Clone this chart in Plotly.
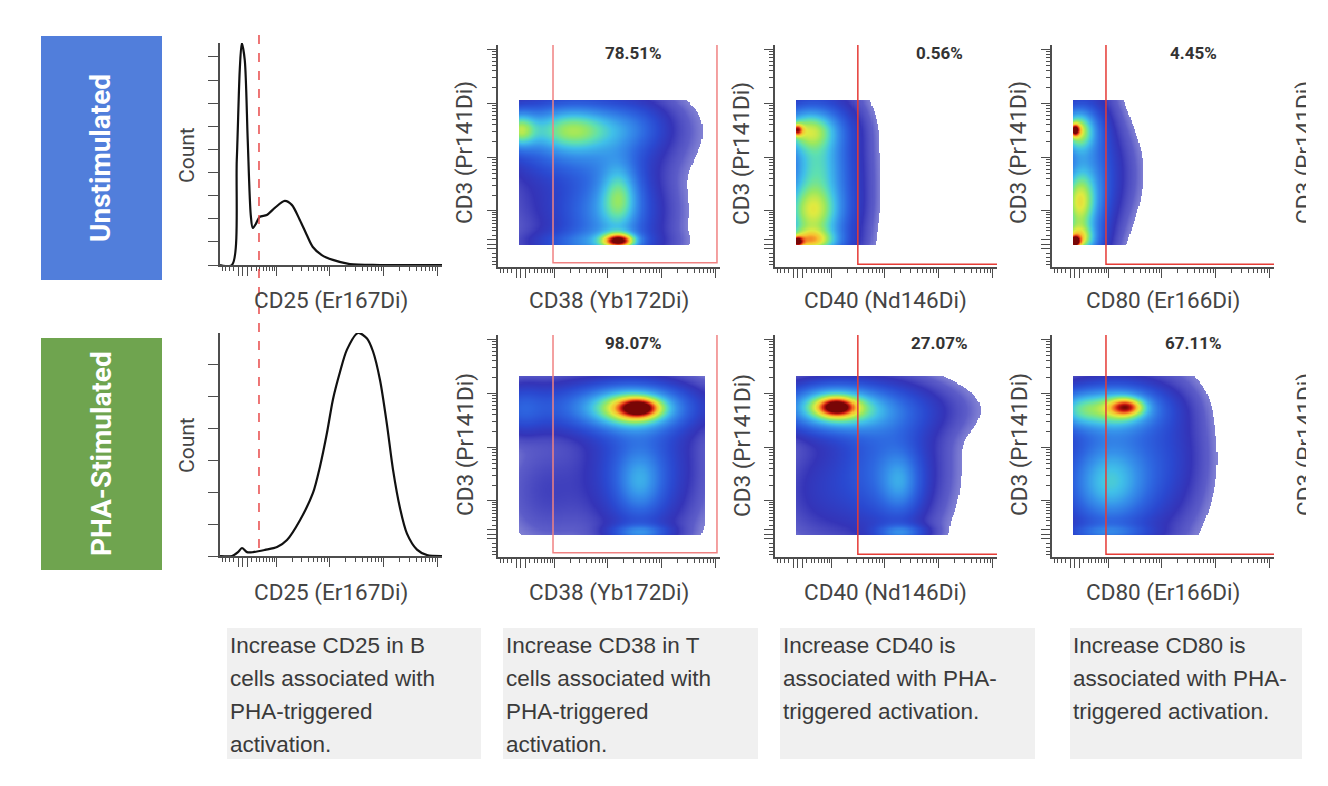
import numpy as np
import plotly.graph_objects as go

# the original figure is cropped a little before the right edge of the window
W, H = 1306, 786

# ---- data -------------------------------------------------------------
# marker axes are arcsinh scaled (cofactor 5); values below are in decades
major_ticks = [-1, 0, 1, 10, 100, 1000, 10000]
minor_ticks = [-5, -4, -3, -2, 2, 3, 4, 5, 6, 7, 8, 9,
               20, 30, 40, 50, 60, 70, 80, 90,
               200, 300, 400, 500, 600, 700, 800, 900,
               2000, 3000, 4000, 5000, 6000, 7000, 8000, 9000]

# CD25 histograms (B cells)
cd25_unstim_x = [-0.42, -0.20, -0.11, -0.055, -0.018, 0.037, 0.092, 0.148, 0.185, 0.24,
                 0.314, 0.444, 0.592, 0.776, 0.906, 1.054, 1.183, 1.294, 1.46, 1.664,
                 1.978, 2.53, 3.68]
cd25_unstim_count = [0, 0, 4.55, 8.44, 9.6, 8.87, 5.41, 2.16, 1.6, 1.77,
                     2.08, 2.16, 2.47, 2.77, 2.6, 1.95, 1.30, 0.78, 0.43, 0.22,
                     0.04, 0, 0]
cd25_pha_x = [-0.42, -0.198, -0.088, -0.014, 0.079, 0.19, 0.41, 0.633, 0.817, 1.057,
              1.297, 1.427, 1.556, 1.667, 1.796, 1.925, 2.128, 2.295, 2.405, 2.535,
              2.664, 2.775, 2.904, 3.033, 3.218, 3.403, 3.68]
cd25_pha_count = [0, 0, 0.12, 0.25, 0.12, 0.12, 0.19, 0.28, 0.5, 1.12,
                  1.97, 2.8, 3.85, 4.9, 5.75, 6.45, 6.97, 6.8, 6.4, 5.5,
                  4.1, 2.7, 1.5, 0.7, 0.2, 0.03, 0]
cd25_gate = 0.30

# CD3 vs marker density plots: populations as (x, y, sd_x, sd_y, peak)
cd38_unstim_pops = [(-0.04, 2.11, 0.22, 0.24, 0.45), (0.9, 2.11, 0.60, 0.30, 0.40),
                    (1.2, 2.1, 0.9, 0.45, 0.25), (2.1, 2.15, 0.4, 0.3, 0.12),
                    (1.83, 0.9, 0.25, 0.45, 0.33), (1.82, 0.06, 0.22, 0.10, 0.65),
                    (1.6, 0.6, 0.6, 0.6, 0.35), (1.3, 0.02, 0.7, 0.15, 0.20),
                    (0.3, 0.9, 0.5, 0.6, 0.05), (1.0, 1.5, 0.8, 0.25, 0.08)]
cd40_unstim_pops = [(-0.02, 2.11, 0.08, 0.08, 0.40), (0.18, 2.11, 0.42, 0.28, 0.52),
                    (-0.02, 0.04, 0.08, 0.07, 0.45), (0.2, 0.05, 0.38, 0.15, 0.45),
                    (0.25, 0.6, 0.40, 0.45, 0.52), (0.35, 1.5, 0.35, 0.30, 0.20),
                    (0.4, 1.2, 0.45, 1.1, 0.24), (0.9, 1.3, 0.3, 0.7, 0.03)]
cd80_unstim_pops = [(0.0, 2.11, 0.07, 0.08, 0.42), (0.04, 2.11, 0.24, 0.27, 0.55),
                    (0.0, 0.04, 0.07, 0.07, 0.48), (0.04, 0.08, 0.24, 0.18, 0.50),
                    (0.06, 0.75, 0.24, 0.45, 0.52), (0.25, 1.2, 0.32, 1.0, 0.27),
                    (0.7, 1.3, 0.35, 0.60, 0.05)]
cd38_pha_pops = [(2.2, 2.33, 0.25, 0.12, 0.35), (2.1, 2.33, 0.55, 0.25, 0.50),
                 (1.6, 2.35, 1.1, 0.32, 0.28), (2.2, 0.95, 0.28, 0.42, 0.20),
                 (2.2, 0.03, 0.35, 0.10, 0.28), (2.2, 1.2, 0.6, 0.8, 0.25),
                 (0.5, 0.8, 0.5, 0.6, 0.06), (0.0, 2.3, 0.3, 0.3, 0.15)]
cd40_pha_pops = [(0.72, 2.35, 0.24, 0.12, 0.38), (0.6, 2.35, 0.55, 0.27, 0.52),
                 (1.2, 2.3, 0.9, 0.32, 0.26), (1.9, 0.95, 0.25, 0.40, 0.22),
                 (1.9, 0.03, 0.30, 0.10, 0.28), (1.6, 1.2, 0.6, 0.8, 0.25),
                 (0.4, 0.8, 0.5, 0.6, 0.08)]
cd80_pha_pops = [(0.97, 2.35, 0.22, 0.12, 0.38), (0.75, 2.33, 0.55, 0.27, 0.52),
                 (0.0, 2.3, 0.30, 0.25, 0.25), (0.6, 0.9, 0.50, 0.50, 0.28),
                 (0.8, 1.3, 0.70, 0.90, 0.25), (0.6, 0.03, 0.50, 0.10, 0.20),
                 (1.8, 1.5, 0.40, 0.80, 0.06)]
# event limits per row: x_lo, x_hi, y_lo, y_hi
unstim_box = (-0.04, 3.4, -0.01, 2.66)
pha_box = (-0.04, 3.4, -0.01, 2.92)

markers = ['CD38 (Yb172Di)', 'CD40 (Nd146Di)', 'CD80 (Er166Di)']
gate_lo = [0.596, 1.11, 0.577]
gate_hi = [3.624, 4.5, 4.5]
gate_pct_unstim = ['78.51%', '0.56%', '4.45%']
gate_pct_pha = ['98.07%', '27.07%', '67.11%']

row_names = ['Unstimulated', 'PHA-Stimulated']
row_colors = ['#517edb', '#6fa44f']
notes = [['Increase CD25 in B', 'cells associated with', 'PHA-triggered', 'activation.'],
         ['Increase CD38 in T', 'cells associated with', 'PHA-triggered', 'activation.'],
         ['Increase CD40 is', 'associated with PHA-', 'triggered activation.'],
         ['Increase CD80 is', 'associated with PHA-', 'triggered activation.']]


# ---- helpers ----------------------------------------------------------
def u(v):
    return (np.arcsinh(np.asarray(v, dtype=float) / 5) / np.log(10)).tolist()


def px(x):
    return x / W


def py(y):
    return 1 - y / H


def density(pops, box, n=200):
    g = np.linspace(-0.42, 3.68, n)
    X, Y = np.meshgrid(g, g)
    Z = np.zeros_like(X)
    for cx, cy, sx, sy, w in pops:
        Z += w * np.exp(-0.5 * (((X - cx) / sx) ** 2 + ((Y - cy) / sy) ** 2))
    Z = np.clip(Z, 0, 1)
    xlo, xhi, ylo, yhi = box
    Z[(X < xlo) | (X > xhi) | (Y < ylo) | (Y > yhi) | (Z < 0.015)] = np.nan
    return g, g, Z.astype(np.float32)


axis_col = '#4d4d4d'


def marker_axis(x0, x1):
    return dict(domain=[x0, x1], range=[-0.42, 3.68], showgrid=False, zeroline=False,
                showline=True, linecolor=axis_col, linewidth=1.5,
                ticks='outside', tickmode='array', tickvals=u(major_ticks),
                ticklen=9, tickwidth=1.2, tickcolor=axis_col, showticklabels=False,
                minor=dict(tickmode='array', tickvals=u(minor_ticks), ticks='outside',
                           ticklen=4, tickwidth=1, tickcolor=axis_col),
                fixedrange=True)


jet = [[0.0, '#a4a4de'], [0.03, '#5c5cc8'], [0.08, '#3434b8'], [0.16, '#2a48d0'],
       [0.26, '#2d66e0'], [0.38, '#3692ea'], [0.48, '#40c0e8'], [0.56, '#5ee0b0'],
       [0.64, '#98e860'], [0.72, '#e0ea40'], [0.80, '#f8c030'], [0.88, '#f06020'],
       [0.94, '#c81810'], [1.0, '#780606']]

fig = go.Figure()
layout = dict(width=W, height=H, margin=dict(l=0, r=0, t=0, b=0),
              paper_bgcolor='white', plot_bgcolor='white', showlegend=False)

# column / row placement in pixels
hist_x = (220, 442)
hist_rows = [(43, 265), (333, 556)]
scat_cols = [498, 775, 1052]
scat_rows = [(45, 267), (335, 557)]
label_font = dict(family='Roboto', size=22.5, color='#444444')
ann = []
shapes = []

# histograms
for r, (xs, ys, top) in enumerate([(cd25_unstim_x, cd25_unstim_count, 9.6),
                                   (cd25_pha_x, cd25_pha_count, 6.97)]):
    k = '' if r == 0 else '2'
    fig.add_trace(go.Scatter(x=xs, y=ys, mode='lines', line_shape='spline',
                             line=dict(color='#111111', width=2.2, smoothing=0.8),
                             xaxis='x' + k, yaxis='y' + k, hoverinfo='skip'))
    layout['xaxis' + k] = marker_axis(px(hist_x[0]), px(hist_x[1]))
    layout['xaxis' + k]['anchor'] = 'y' + k
    t0, t1 = hist_rows[r]
    layout['yaxis' + k] = dict(domain=[py(t1), py(t0)], range=[0, top], anchor='x' + k,
                               showgrid=False, zeroline=False, showline=True,
                               linecolor=axis_col, linewidth=1.5, ticks='outside',
                               tickmode='array', tickvals=list(range(int(top) + 1)),
                               ticklen=10, tickwidth=1.2, tickcolor=axis_col,
                               showticklabels=False, fixedrange=True)
    ann.append(dict(x=px(187), y=py(155 + 290 * r), text='Count', textangle=-90,
                    font=dict(family='Roboto', size=21, color='#444444')))
    ann.append(dict(x=px(331), y=py(300 + 292 * r), text='CD25 (Er167Di)', font=label_font))

shapes.append(dict(type='line', xref='x', yref='paper', x0=cd25_gate, x1=cd25_gate,
                   y0=py(548), y1=py(35), line=dict(color='#e84a4a', width=1.5, dash='dash')))

# density plots
pops = [[cd38_unstim_pops, cd40_unstim_pops, cd80_unstim_pops],
        [cd38_pha_pops, cd40_pha_pops, cd80_pha_pops]]
pcts = [gate_pct_unstim, gate_pct_pha]
for r in range(2):
    box = unstim_box if r == 0 else pha_box
    t0, t1 = scat_rows[r]
    for c in range(3):
        n = str(3 + r * 3 + c)
        gx, gy, z = density(pops[r][c], box)
        fig.add_trace(go.Heatmap(x=gx, y=gy, z=z, colorscale=jet, zmin=0, zmax=1,
                                 showscale=False, hoverinfo='skip',
                                 xaxis='x' + n, yaxis='y' + n))
        x0 = scat_cols[c]
        layout['xaxis' + n] = marker_axis(px(x0), px(x0 + 222))
        layout['xaxis' + n]['anchor'] = 'y' + n
        layout['yaxis' + n] = marker_axis(py(t1), py(t0))
        layout['yaxis' + n]['anchor'] = 'x' + n
        gate_col = '#f08282' if c == 0 else '#e53b35'
        shapes.append(dict(type='rect', xref='x' + n, yref='y' + n,
                           x0=gate_lo[c], x1=gate_hi[c], y0=-0.34 if c == 0 else -0.37, y1=4.5,
                           line=dict(color=gate_col, width=1.5)))
        cx = [633, 939, 1193][c]
        ann.append(dict(x=px(cx), y=py(t0 + 8), text='<b>%s</b>' % pcts[r][c],
                        font=dict(family='Roboto', size=17, color='#333333')))
        ann.append(dict(x=px(x0 + 111), y=py(300 + 292 * r), text=markers[c], font=label_font))
        ann.append(dict(x=px(x0 - 33), y=py(153 + 292 * r), text='CD3 (Pr141Di)',
                        textangle=-90, font=label_font))
    # next panel's axis title, cut by the figure edge
    ann.append(dict(x=px(1305), y=py(153 + 292 * r), text='CD3 (Pr141Di)',
                    textangle=-90, font=label_font))

# row labels
for r, (name, col) in enumerate(zip(row_names, row_colors)):
    y0, y1 = [(36, 280), (338, 570)][r]
    shapes.append(dict(type='rect', xref='paper', yref='paper', x0=px(41), x1=px(162),
                       y0=py(y1), y1=py(y0), fillcolor=col, line=dict(width=0), layer='below'))
    ann.append(dict(x=px(101), y=py((y0 + y1) / 2), text='<b>%s</b>' % name, textangle=-90,
                    font=dict(family='Roboto', size=28, color='white')))

# notes
note_boxes = [(227, 481), (503, 758), (780, 1035), (1070, 1302)]
for (b0, b1), lines in zip(note_boxes, notes):
    shapes.append(dict(type='rect', xref='paper', yref='paper', x0=px(b0), x1=px(b1),
                       y0=py(759), y1=py(628), fillcolor='#f0f0f0', line=dict(width=0),
                       layer='below'))
    for i, line in enumerate(lines):
        ann.append(dict(x=px(b0 + 1), y=py(645 + 33.3 * i), text=line, xanchor='left',
                        font=dict(family='Liberation Sans', size=22.5, color='#3a3a3a')))

for a in ann:
    a.setdefault('xref', 'paper')
    a.setdefault('yref', 'paper')
    a.setdefault('xanchor', 'center')
    a.setdefault('yanchor', 'middle')
    a.setdefault('showarrow', False)

layout['annotations'] = ann
layout['shapes'] = shapes
fig.update_layout(**layout)

fig.write_html("out.html", config={'displayModeBar': False},
               post_script="document.body.style.margin='0px';")
